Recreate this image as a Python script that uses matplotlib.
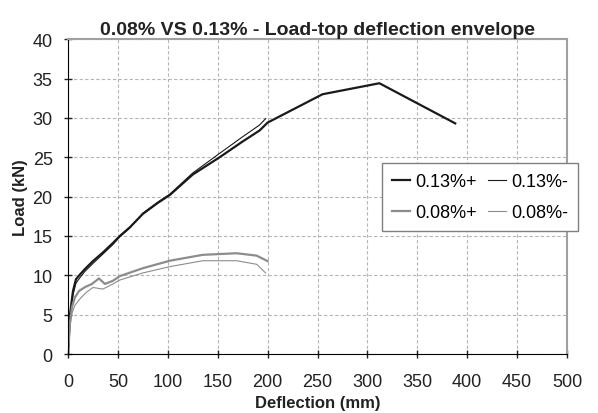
import matplotlib
matplotlib.use("Agg")
import matplotlib.pyplot as plt

plt.rcParams["font.family"] = ["Liberation Sans", "DejaVu Sans"]

# data
x_13p = [0, 2, 5, 8, 12, 17, 25, 35, 45, 52, 62, 75, 90, 102, 125, 152, 175, 192, 200, 255, 312, 388]
y_13p = [0, 5, 8, 9.5, 10.1, 10.8, 11.8, 12.9, 14.1, 15.0, 16.1, 17.8, 19.2, 20.2, 22.8, 25.0, 27.0, 28.4, 29.4, 33.0, 34.4, 29.3]

x_13m = [0, 2, 5, 8, 12, 17, 25, 35, 45, 52, 62, 75, 90, 102, 125, 152, 175, 192, 198]
y_13m = [0, 4.5, 7.5, 9.0, 9.7, 10.5, 11.5, 12.7, 13.9, 14.9, 16.0, 17.9, 19.3, 20.3, 23.0, 25.5, 27.6, 29.1, 29.9]

x_08p = [0, 2, 4, 7, 11, 17, 24, 31, 37, 45, 52, 75, 102, 135, 169, 189, 200]
y_08p = [0, 4.0, 6.0, 7.2, 8.0, 8.5, 8.9, 9.6, 8.9, 9.3, 9.9, 10.9, 11.85, 12.6, 12.8, 12.5, 11.8]

x_08m = [0, 2, 4, 7, 12, 18, 25, 30, 35, 45, 52, 75, 102, 135, 169, 189, 198]
y_08m = [0, 3.5, 5.2, 6.2, 7.0, 7.8, 8.45, 8.35, 8.25, 8.9, 9.4, 10.3, 11.1, 11.85, 11.85, 11.4, 10.3]

x_ticks = [0, 50, 100, 150, 200, 250, 300, 350, 400, 450, 500]
y_ticks = [0, 5, 10, 15, 20, 25, 30, 35, 40]

fig = plt.figure(figsize=(5.98, 4.14), dpi=100)
ax = fig.add_axes([0.1137, 0.1425, 0.8345, 0.7605])

l1, = ax.plot(x_13p, y_13p, color="#1a1a1a", linewidth=1.6, label="0.13%+")
l2, = ax.plot(x_13m, y_13m, color="#1a1a1a", linewidth=0.8, label="0.13%-")
l3, = ax.plot(x_08p, y_08p, color="#8c8c8c", linewidth=1.6, label="0.08%+")
l4, = ax.plot(x_08m, y_08m, color="#8c8c8c", linewidth=0.8, label="0.08%-")

ax.set_xlim(0, 500)
ax.set_ylim(0, 40)
ax.set_xticks(x_ticks)
ax.set_yticks(y_ticks)
ax.tick_params(direction="inout", length=6, labelsize=13, width=1, colors="#222222")
ax.tick_params(axis="x", pad=11)
ax.tick_params(axis="y", pad=8)
ax.grid(True, color="#b5b5b5", linestyle=(0, (3, 2)), linewidth=0.8)

ax.spines["left"].set_color("black")
ax.spines["bottom"].set_color("black")
ax.spines["top"].set_color("#a0a0a0")
ax.spines["right"].set_color("#a0a0a0")
ax.spines["top"].set_linewidth(1.5)
ax.spines["right"].set_linewidth(1.5)

ax.set_title("0.08% VS 0.13% - Load-top deflection envelope",
             fontsize=14, fontweight="bold", pad=4, color="#222222")
ax.set_xlabel("Deflection (mm)", fontsize=12, fontweight="bold", labelpad=3, color="#222222")
ax.set_ylabel("Load (kN)", fontsize=12, fontweight="bold", labelpad=3, color="#222222")

# column-major order so rows read 0.13% / 0.08%
leg = ax.legend([l1, l3, l2, l4], ["0.13%+", "0.08%+", "0.13%-", "0.08%-"],
                ncol=2, loc="upper left", bbox_to_anchor=(0.629, 0.607),
                fontsize=13, frameon=True, fancybox=False, shadow=False,
                handlelength=1.0, handletextpad=0.3, columnspacing=0.6,
                borderpad=0.55, labelspacing=0.8, edgecolor="#808080",
                borderaxespad=0)
leg.get_frame().set_linewidth(1.0)
leg.get_frame().set_alpha(1)

fig.savefig("out.png", dpi=100)
